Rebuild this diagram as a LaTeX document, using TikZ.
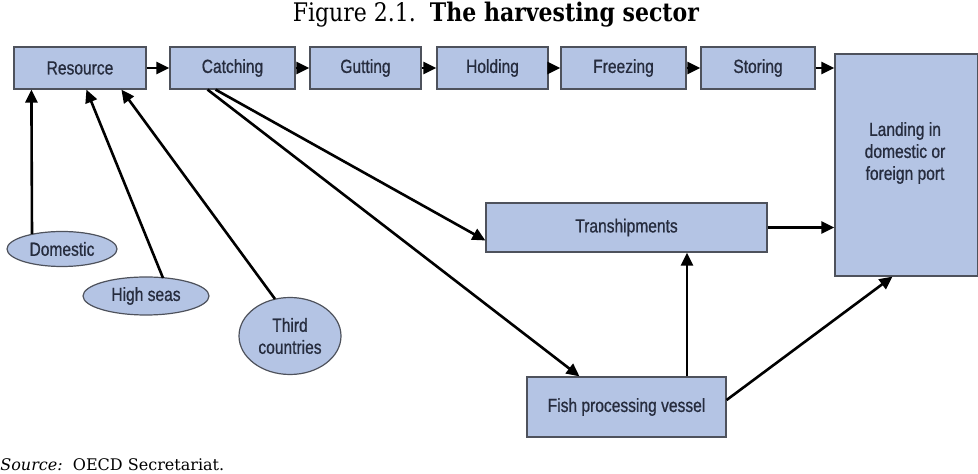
\documentclass[tikz,border=0pt]{standalone}
\usepackage{fontspec}
\setmainfont{DejaVu Serif}
\newfontfamily\titlefont[FakeStretch=0.86]{DejaVu Serif}
\newfontfamily\boxfont[FakeStretch=0.82,FakeBold=0.8]{Liberation Sans}
\usetikzlibrary{arrows.meta,shapes.geometric,calc}
\definecolor{boxfill}{RGB}{180,196,228}
\definecolor{boxline}{RGB}{78,82,92}
\definecolor{boxtext}{RGB}{38,44,62}
\begin{document}
\begin{tikzpicture}[x=0.5pt,y=-0.5pt,
  stage/.style={draw=boxline, fill=boxfill, line width=0.6pt, inner sep=0pt,
    minimum height=21pt, font=\boxfont\fontsize{9.5}{11}\selectfont, text=boxtext},
  origin/.style={ellipse, draw=boxline, fill=boxfill, line width=0.6pt, inner sep=0pt,
    font=\boxfont\fontsize{9.5}{11}\selectfont, text=boxtext, align=center},
  flow/.style={line width=1.3pt, -{Triangle[length=6.5pt,width=6pt]}}]
\useasboundingbox (0,0) rectangle (978,474);

% title and source line
\node[font=\titlefont\fontsize{12.8}{15}\selectfont] (title) at (496,15)
  {Figure 2.1.\ \ \textbf{The harvesting sector}};
\node[anchor=base west, inner sep=0pt, font=\fontsize{8}{9}\selectfont] (source) at (0,471)
  {\textit{Source:}\ \ OECD Secretariat.};

% top row of stages
\node[stage, minimum width=66pt]   (res)  at (80,68)    {Resource};
\node[stage, minimum width=62.5pt] (catch) at (232.5,68) {Catching};
\node[stage, minimum width=55.5pt] (gut)  at (365.5,68)  {Gutting};
\node[stage, minimum width=55.5pt] (hold) at (492.5,68)  {Holding};
\node[stage, minimum width=62.5pt] (freeze) at (623.5,68) {Freezing};
\node[stage, minimum width=57pt]   (store) at (758,68)   {Storing};

% landing box with its text set in the upper half
\node[stage, minimum width=71.5pt, minimum height=111pt] (land) at (906.5,165) {};
\node[font=\boxfont\fontsize{9.5}{11}\selectfont, text=boxtext, align=center] (landtxt)
  at (905,153) {Landing in\\domestic or\\foreign port};

% middle and lower boxes
\node[stage, minimum width=140.5pt, minimum height=24.5pt] (trans) at (626.5,227.5) {Transhipments};
\node[stage, minimum width=99.5pt, minimum height=30pt] (vessel) at (626.5,407) {Fish processing vessel};

% origins of the resource
\node[origin, minimum width=55pt, minimum height=17.5pt] (dom)   at (62,249)  {Domestic};
\node[origin, minimum width=63pt, minimum height=19pt]   (high)  at (146,296) {High seas};
\node[origin, minimum width=51pt, minimum height=38.5pt] (third) at (290,336) {Third\\countries};

% flow along the top row
\draw[flow] (res.east) -- (catch.west);
\draw[flow] (catch.east) -- (gut.west);
\draw[flow] (gut.east) -- (hold.west);
\draw[flow] (hold.east) -- (freeze.west);
\draw[flow] (freeze.east) -- (store.west);
\draw[flow] (store.east) -- (store.east -| land.west);

% origins feeding the resource
\draw[flow] ($(dom.center)+(-30,-15)$) -- ($(res.south west)+(18,0)$);
\draw[flow] ($(high.center)+(17,-18)$) -- ($(res.south west)+(73,0)$);
\draw[flow] ($(third.center)+(-15,-37)$) -- ($(res.south west)+(108,0)$);

% catching to transhipments and to the processing vessel
\draw[flow] ($(catch.south)+(-17,0)$) -- ($(trans.west)+(0,13)$);
\draw[flow] ($(catch.south)+(-25,0)$) -- ($(vessel.north)+(-47,0)$);

% onward to the port
\draw[flow] ($(vessel.north)+(60.5,0)$) -- ($(trans.south)+(60.5,0)$);
\draw[flow] (trans.east) -- (trans.east -| land.west);
\draw[flow] ($(vessel.east)+(0,-7)$) -- ($(land.south)+(-14,0)$);
\end{tikzpicture}
\end{document}
